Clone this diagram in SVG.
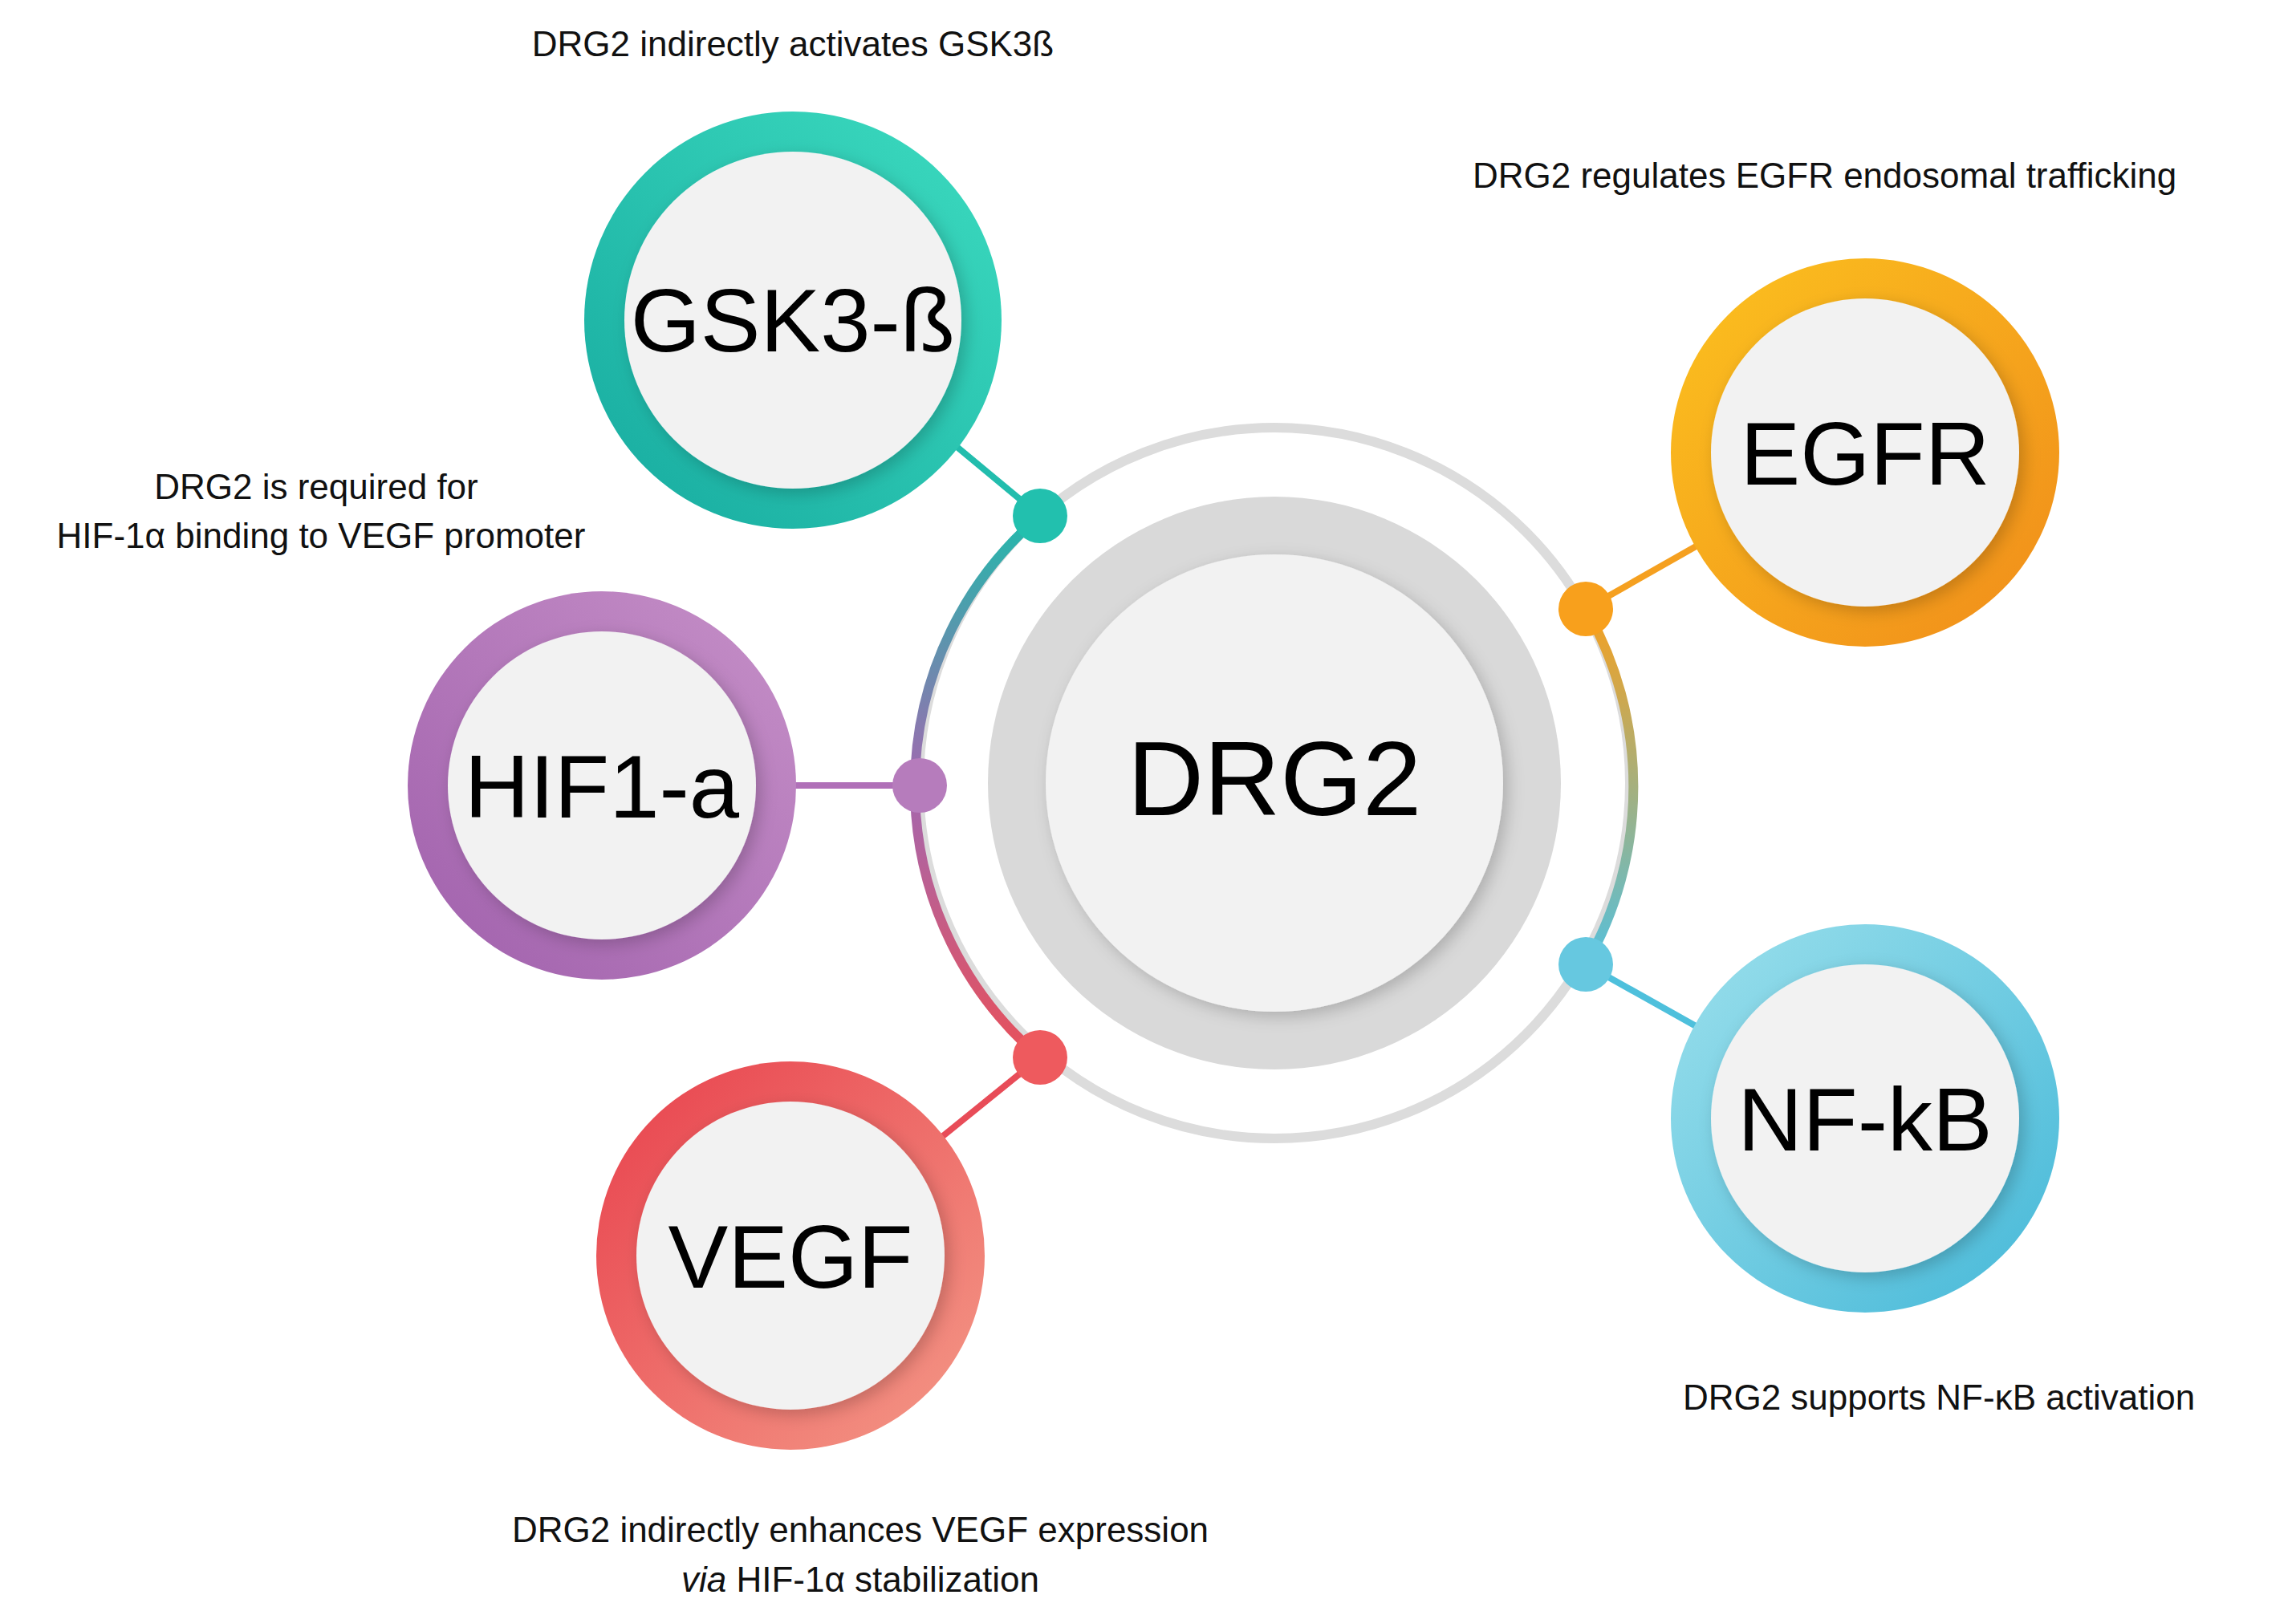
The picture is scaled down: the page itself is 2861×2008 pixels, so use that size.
<svg xmlns="http://www.w3.org/2000/svg" width="2861" height="2008" viewBox="0 0 2861 2008">
<defs>
<linearGradient id="gT" x1="0" y1="1" x2="1" y2="0"><stop offset="0" stop-color="#16aa9f"/><stop offset="1" stop-color="#3ddcc0"/></linearGradient>
<linearGradient id="gO" x1="0" y1="0" x2="1" y2="1"><stop offset="0" stop-color="#fcc21f"/><stop offset="1" stop-color="#f08c1a"/></linearGradient>
<linearGradient id="gP" x1="0" y1="1" x2="1" y2="0"><stop offset="0" stop-color="#a060ac"/><stop offset="1" stop-color="#c690c8"/></linearGradient>
<linearGradient id="gR" x1="0" y1="0" x2="1" y2="1"><stop offset="0" stop-color="#e8404c"/><stop offset="1" stop-color="#f49a88"/></linearGradient>
<linearGradient id="gB" x1="0" y1="0" x2="1" y2="1"><stop offset="0" stop-color="#9ce0ec"/><stop offset="1" stop-color="#45b8d8"/></linearGradient>
<linearGradient id="aL" gradientUnits="userSpaceOnUse" x1="0" y1="643" x2="0" y2="1318"><stop offset="0" stop-color="#22b9ab"/><stop offset="0.5" stop-color="#a368b0"/><stop offset="1" stop-color="#e8505a"/></linearGradient>
<linearGradient id="aR" gradientUnits="userSpaceOnUse" x1="0" y1="759" x2="0" y2="1202"><stop offset="0" stop-color="#f5a020"/><stop offset="1" stop-color="#55c0dc"/></linearGradient>
<filter id="sh" x="-20%" y="-20%" width="140%" height="140%"><feDropShadow dx="6" dy="6" stdDeviation="10" flood-color="#000" flood-opacity="0.2"/></filter>
</defs>
<style>
.lbl{font-family:"Liberation Sans",Arial,sans-serif;font-size:44px;fill:#111;text-anchor:middle}
.nt{font-family:"Liberation Sans",Arial,sans-serif;font-size:112px;fill:#000;text-anchor:middle}
.inner{fill:#f2f2f2;filter:url(#sh)}
</style>
<rect width="2861" height="2008" fill="#fff"/>
<g id="connectors" fill="none">
<circle cx="1588" cy="976" r="443" stroke="#dcdcdc" stroke-width="12"/>
<path d="M1296 643 A443 443 0 0 0 1296 1318" stroke="url(#aL)" stroke-width="12"/>
<path d="M1976 759 A443 443 0 0 1 1976 1202" stroke="url(#aR)" stroke-width="12"/>
<line x1="1296" y1="643" x2="1190" y2="555" stroke="#22bdad" stroke-width="8"/>
<line x1="1976" y1="759" x2="2115" y2="680" stroke="#f5a020" stroke-width="8"/>
<line x1="1146" y1="979" x2="990" y2="979" stroke="#b070b8" stroke-width="8"/>
<line x1="1296" y1="1318" x2="1170" y2="1420" stroke="#e84c58" stroke-width="8"/>
<line x1="1976" y1="1202" x2="2115" y2="1280" stroke="#4ec0dc" stroke-width="8"/>
<circle cx="1296" cy="643" r="34" fill="#22c0ae"/>
<circle cx="1976" cy="759" r="34" fill="#f8a01c"/>
<circle cx="1146" cy="979" r="34" fill="#b67cbc"/>
<circle cx="1296" cy="1318" r="34" fill="#ee5a5e"/>
<circle cx="1976" cy="1202" r="34" fill="#66c8e0"/>
</g>
<g id="drg2"><circle cx="1588" cy="976" r="357" fill="#d9d9d9"/><circle class="inner" cx="1588" cy="976" r="285"/><text class="nt" x="1588" y="1016" style="font-size:132px">DRG2</text></g>
<g id="gsk3"><circle cx="988" cy="399" r="260" fill="url(#gT)"/><circle class="inner" cx="988" cy="399" r="210"/><text class="nt" x="988" y="438">GSK3-ß</text></g>
<g id="egfr"><circle cx="2324" cy="564" r="242" fill="url(#gO)"/><circle class="inner" cx="2324" cy="564" r="192"/><text class="nt" x="2324" y="604">EGFR</text></g>
<g id="hif1a"><circle cx="750" cy="979" r="242" fill="url(#gP)"/><circle class="inner" cx="750" cy="979" r="192"/><text class="nt" x="750" y="1019">HIF1-a</text></g>
<g id="vegf"><circle cx="985" cy="1565" r="242" fill="url(#gR)"/><circle class="inner" cx="985" cy="1565" r="192"/><text class="nt" x="985" y="1605">VEGF</text></g>
<g id="nfkb"><circle cx="2324" cy="1394" r="242" fill="url(#gB)"/><circle class="inner" cx="2324" cy="1394" r="192"/><text class="nt" x="2324" y="1434">NF-kB</text></g>
<g id="labels">
<text class="lbl" x="988" y="70">DRG2 indirectly activates GSK3ß</text>
<text class="lbl" x="1835" y="234" style="text-anchor:start">DRG2 regulates EGFR endosomal trafficking</text>
<text class="lbl" x="394" y="622">DRG2 is required for</text>
<text class="lbl" x="400" y="683">HIF-1α binding to VEGF promoter</text>
<text class="lbl" x="2416" y="1757">DRG2 supports NF-κB activation</text>
<text class="lbl" x="1072" y="1922">DRG2 indirectly enhances VEGF expression</text>
<text class="lbl" x="1072" y="1984"><tspan font-style="italic">via</tspan> HIF-1α stabilization</text>
</g>
</svg>
